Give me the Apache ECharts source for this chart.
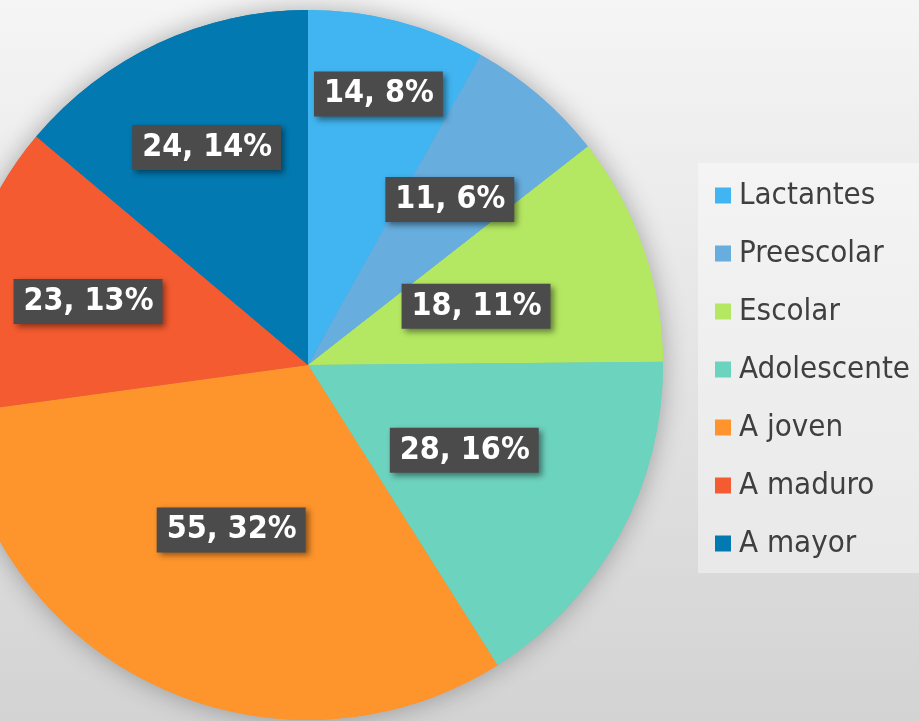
<!DOCTYPE html>
<html>
<head>
<meta charset="utf-8">
<script src="https://cdn.jsdelivr.net/npm/echarts@6/dist/echarts.min.js"></script>
<style>
  html, body { margin: 0; padding: 0; }
  #pieArea { width: 919px; height: 721px; }
</style>
</head>
<body>
<div id="pieArea"></div>
<script>
// grupos de edad
var grupos = ['Lactantes', 'Preescolar', 'Escolar', 'Adolescente', 'A joven', 'A maduro', 'A mayor'];
var casos = [14, 11, 18, 28, 55, 23, 24];
var colores = ['#41b5f1', '#67addd', '#b4e862', '#6cd3be', '#fe942c', '#f45b30', '#0279b1'];

// distance of each label from the pie center (px), like excel's best fit
var labelRadius = [280, 218, 178, 178, 182, 229, 240];

var cx = 308, cy = 365, R = 355;

var datos = grupos.map(function (g, i) {
    return { name: g, value: casos[i] };
});

var pieOption = {
    backgroundColor: {
        type: 'linear', x: 0, y: 0, x2: 0, y2: 1,
        colorStops: [
            { offset: 0, color: '#f5f5f5' },
            { offset: 1, color: '#d3d3d3' }
        ]
    },
    animation: false,
    color: colores,
    legend: {
        orient: 'vertical',
        left: 698,
        top: 163,
        icon: 'rect',
        itemWidth: 16,
        itemHeight: 16,
        itemGap: 27,
        padding: [17, 20, 14, 17],
        backgroundColor: 'rgba(255,255,255,0.4)',
        data: grupos,
        textStyle: {
            fontFamily: 'DejaVu Sans Condensed, DejaVu Sans',
            fontSize: 31,
            lineHeight: 31,
            color: '#3f3f3f',
            padding: [0, 0, 0, 3]
        }
    },
    series: [
        {
            // sombra bajo el pastel
            name: 'sombra',
            type: 'pie',
            z: 1,
            center: [cx, cy],
            radius: R,
            startAngle: 90,
            silent: true,
            itemStyle: {
                borderWidth: 0,
                shadowBlur: 26,
                shadowColor: 'rgba(0,0,0,0.3)'
            },
            label: { show: false },
            labelLine: { show: false },
            data: datos
        },
        {
            name: 'Casos',
            type: 'pie',
            z: 2,
            center: [cx, cy],
            radius: R,
            startAngle: 90,
            clockwise: true,
            percentPrecision: 0,
            silent: true,
            itemStyle: { borderWidth: 0 },
            label: {
                show: true,
                position: 'inside',
                formatter: '{c}, {d}%',
                fontFamily: 'DejaVu Sans Condensed, DejaVu Sans',
                fontWeight: 'bold',
                fontSize: 32,
                lineHeight: 32,
                color: '#ffffff',
                backgroundColor: '#4b4b4b',
                padding: [7, 9, 6, 10],
                shadowBlur: 6,
                shadowOffsetX: 3,
                shadowOffsetY: 3,
                shadowColor: 'rgba(0,0,0,0.45)'
            },
            labelLine: { show: false },
            labelLayout: function (params) {
                var r = params.labelRect;
                var lx = r.x + r.width / 2 - cx;
                var ly = r.y + r.height / 2 - cy;
                var d = Math.sqrt(lx * lx + ly * ly) || 1;
                var k = labelRadius[params.dataIndex] / d - 1;
                return { dx: lx * k, dy: ly * k };
            },
            data: datos
        }
    ]
};

var pieChart = echarts.init(document.getElementById('pieArea'));
pieChart.setOption(pieOption);
</script>
</body>
</html>
